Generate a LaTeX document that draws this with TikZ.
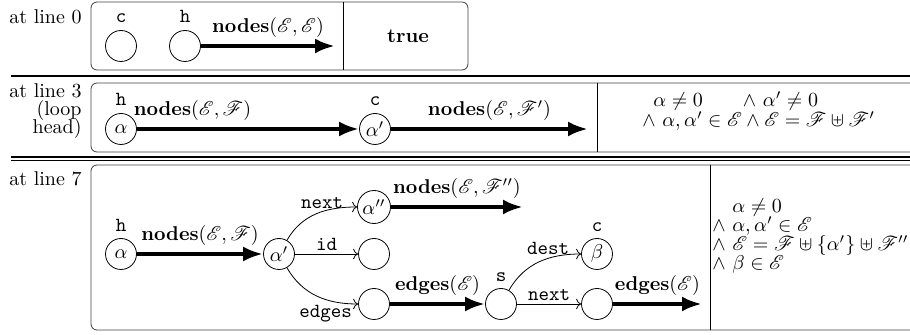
\documentclass[tikz,border=0pt]{standalone}
\usepackage{mathrsfs}
\usetikzlibrary{arrows.meta,positioning}

\begin{document}
\begin{tikzpicture}[
    x=0.5pt, y=-0.5pt,
    loc/.style={circle, draw, minimum size=15.5pt, inner sep=1pt},
    tag/.style={anchor=base, inner sep=0pt, font=\ttfamily},
    panel/.style={draw=black!75, rounded corners=3pt},
    side/.style={anchor=north east, align=right, inner sep=0pt},
    cond/.style={anchor=base west, inner sep=0pt},
    heavy/.style={-{Latex[length=10pt,width=7.5pt]}, line width=2pt},
    link/.style={->},
    edgetext/.style={font=\ttfamily, inner sep=1.5pt},
    rule/.style={line width=0.6pt}
]
\useasboundingbox (0,0) rectangle (910,335);

\node[side] (l0) at (82,9) {at line 0};
\draw[panel] (91,2) rectangle (468,70);
\draw (343,2) -- (343,70);
\node[loc] (c0) at (121,46) {};
\node[loc] (h0) at (185,46) {};
\node[above=4pt of c0, tag] (c0t) {c};
\node[above=4pt of h0, tag] (h0t) {h};
\coordinate (e0) at (335,46);
\draw[heavy] (h0) -- node[above] (n0) {$\textbf{nodes}(\mathscr{E},\mathscr{E})$} (e0);
\node (t0) at (408,36) {\textbf{true}};

\draw[line width=1pt] (11,76.5) -- (910,76.5);

\node[side] (l3) at (82,83) {at line 3\\[-3pt](loop\\[-3pt]head)};
\draw[panel] (91,83) rectangle (960,152);
\draw (597,83) -- (597,152);
\node[loc] (a3) at (121,129) {$\alpha$};
\node[loc] (b3) at (375,129) {$\alpha'$};
\node[above=4pt of a3, tag] (a3t) {h};
\node[above=4pt of b3, tag] (b3t) {c};
\coordinate (e3) at (588,129);
\draw[heavy] (a3) -- node[above, pos=0.25] (n3a) {$\textbf{nodes}(\mathscr{E},\mathscr{F})$} (b3);
\draw[heavy] (b3) -- node[above] (n3b) {$\textbf{nodes}(\mathscr{E},\mathscr{F}')$} (e3);
\node[cond] (k3a) at (653,107) {$\alpha \neq 0 \qquad {\wedge}\ \alpha' \neq 0$};
\node[cond] (k3b) at (642,127) {$\wedge\ \alpha, \alpha' \in \mathscr{E} \wedge \mathscr{E} = \mathscr{F} \uplus \mathscr{F}'$};

\draw[rule] (11,157) -- (910,157);
\draw[rule] (11,160.5) -- (910,160.5);

\node[side] (l7) at (82,171) {at line 7};
\draw[panel] (91,165) rectangle (960,330);
\draw (710,165) -- (710,330);
\node[loc] (a7) at (121,254) {$\alpha$};
\node[loc] (b7) at (279,254) {$\alpha'$};
\node[loc] (c7) at (374,207) {$\alpha''$};
\node[loc] (d7) at (374,254) {};
\node[loc] (f7) at (374,304) {};
\node[loc] (s7) at (501,304) {};
\node[loc] (g7) at (597,254) {$\beta$};
\node[loc] (m7) at (597,304) {};
\node[above=3.5pt of a7, tag] (a7t) {h};
\node[above=3.5pt of s7, tag] (s7t) {s};
\node[above=3.5pt of g7, tag] (g7t) {c};
\coordinate (e7a) at (523,207);
\coordinate (e7b) at (702,304);
\draw[heavy] (a7) -- node[above] (n7a) {$\textbf{nodes}(\mathscr{E},\mathscr{F})$} (b7);
\draw[link] (b7) to[out=60, in=180] node[edgetext, above, pos=0.58] (x7a) {next} (c7);
\draw[link] (b7) -- node[edgetext, above] (x7b) {id} (d7);
\draw[link] (b7) to[out=-60, in=180] node[edgetext, below, pos=0.62, inner sep=2.5pt] (x7c) {edges} (f7);
\draw[heavy] (c7) -- node[above] (n7b) {$\textbf{nodes}(\mathscr{E},\mathscr{F}'')$} (e7a);
\draw[heavy] (f7) -- node[above] (n7c) {$\textbf{edges}(\mathscr{E})$} (s7);
\draw[link] (s7) to[out=60, in=180] node[edgetext, above, pos=0.62] (x7d) {dest} (g7);
\draw[link] (s7) -- node[edgetext, above] (x7e) {next} (m7);
\draw[heavy] (m7) -- node[above] (n7d) {$\textbf{edges}(\mathscr{E})$} (e7b);
\node[cond] (k7a) at (732,213) {$\alpha \neq 0$};
\node[cond] (k7b) at (712,232) {$\wedge\ \alpha, \alpha' \in \mathscr{E}$};
\node[cond] (k7c) at (712,251) {$\wedge\ \mathscr{E} = \mathscr{F} \uplus \{\alpha'\} \uplus \mathscr{F}''$};
\node[cond] (k7d) at (712,270) {$\wedge\ \beta \in \mathscr{E}$};

\end{tikzpicture}
\end{document}
